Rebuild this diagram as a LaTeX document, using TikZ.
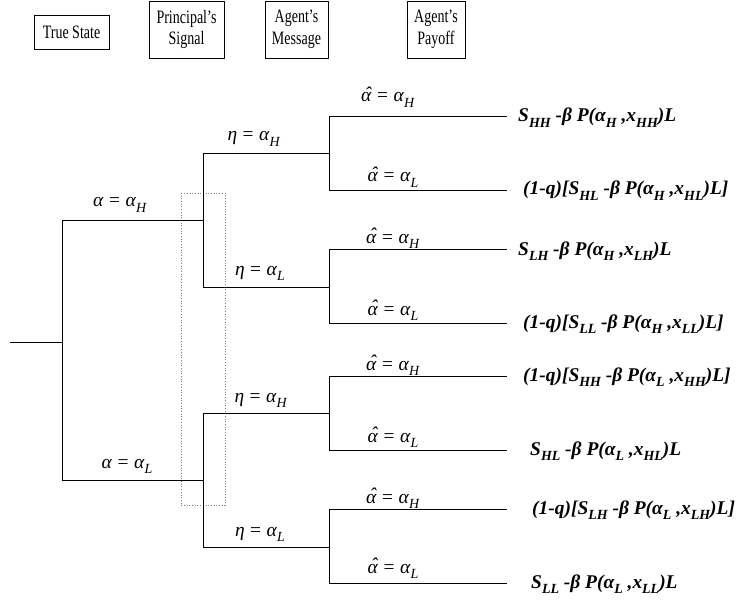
\documentclass[tikz,border=0pt]{standalone}
\usepackage{fontspec}
\setmainfont{Liberation Serif}
\usepackage{graphicx}
\newcommand\hs[1]{\scalebox{0.74}[1]{#1}}
\newcommand\sbs[1]{\raisebox{-0.28em}{\fontsize{14}{14}\selectfont #1}}
\newcommand\ahat{\rlap{\kern0.17em\raisebox{0.08em}{ˆ}}α}
\newcommand\lab[3]{{\fontsize{19.5}{19.5}\selectfont\textit{#1}\kern0.28em=\kern0.28em\textit{α}\sbs{\textit{#2}}}}
\newcommand\pay[1]{{\fontsize{19.5}{19.5}\selectfont\bfseries\itshape #1}}
\tikzset{
  hdr/.style={draw, line width=0.8bp, inner sep=0pt, align=center, font=\fontsize{19}{22}\selectfont},
  br/.style={line width=0.8bp},
  lbl/.style={anchor=base, inner sep=0pt},
  payn/.style={anchor=base west, inner sep=0pt},
  info/.style={dotted, gray, line width=0.7bp}
}
\begin{document}
\begin{tikzpicture}[x=1bp,y=-1bp]
\useasboundingbox (0,0) rectangle (737,600);
% headers
\node[hdr, minimum width=75bp, minimum height=34bp] (h1) at (71.5,32) {\hs{True State}};
\node[hdr, minimum width=75bp, minimum height=57bp] (h2) at (186.5,29.5) {\hs{Principal’s}\\\hs{Signal}};
\node[hdr, minimum width=63bp, minimum height=57bp] (h3) at (296.5,29.5) {\hs{Agent’s}\\\hs{Message}};
\node[hdr, minimum width=58bp, minimum height=57bp] (h4) at (436,29.5) {\hs{Agent’s}\\\hs{Payoff}};
% tree coordinates
\coordinate (r0) at (10,342);
\coordinate (r) at (62,342);
\coordinate (aH) at (62,220);
\coordinate (aL) at (62,480);
\coordinate (s1) at (203,220);
\coordinate (s2) at (203,480);
\coordinate (s1t) at (203,153);
\coordinate (s1b) at (203,287);
\coordinate (s2t) at (203,413);
\coordinate (s2b) at (203,547);
\coordinate (m1) at (329,153);
\coordinate (m2) at (329,287);
\coordinate (m3) at (329,413);
\coordinate (m4) at (329,547);
\foreach \i/\y in {1/116,2/190,3/249,4/323,5/376,6/450,7/509,8/583}{
  \coordinate (l\i) at (329,\y);
  \coordinate (e\i) at (507,\y);
}
% information set
\draw[info] (181,193) rectangle (225,505);
% branches
\draw[br] (r0) -- (r);
\draw[br] (aH) -- (aL);
\draw[br] (aH) -- (s1);
\draw[br] (aL) -- (s2);
\draw[br] (s1t) -- (s1b);
\draw[br] (s2t) -- (s2b);
\draw[br] (s1t) -- (m1);
\draw[br] (s1b) -- (m2);
\draw[br] (s2t) -- (m3);
\draw[br] (s2b) -- (m4);
\draw[br] (l1) -- (l2);
\draw[br] (l3) -- (l4);
\draw[br] (l5) -- (l6);
\draw[br] (l7) -- (l8);
\foreach \i in {1,...,8}{ \draw[br] (l\i) -- (e\i); }
% labels
\node[lbl] (tH) at (120,207) {\lab{α}{H}{}};
\node[lbl] (tL) at (127,468) {\lab{α}{L}{}};
\node[lbl] (g1) at (254,141) {\lab{η}{H}{}};
\node[lbl] (g2) at (260,275) {\lab{η}{L}{}};
\node[lbl] (g3) at (261,402) {\lab{η}{H}{}};
\node[lbl] (g4) at (260,536) {\lab{η}{L}{}};
\node[lbl] (k1) at (388,102) {\lab{\ahat}{H}{}};
\node[lbl] (k2) at (393,182) {\lab{\ahat}{L}{}};
\node[lbl] (k3) at (393,243) {\lab{\ahat}{H}{}};
\node[lbl] (k4) at (393,315) {\lab{\ahat}{L}{}};
\node[lbl] (k5) at (393,370) {\lab{\ahat}{H}{}};
\node[lbl] (k6) at (393,442) {\lab{\ahat}{L}{}};
\node[lbl] (k7) at (393,503) {\lab{\ahat}{H}{}};
\node[lbl] (k8) at (393,573) {\lab{\ahat}{L}{}};
% payoffs
\node[payn] (p1) at (518,122) {\pay{S\sbs{HH} -β P(α\sbs{H} ,x\sbs{HH})L}};
\node[payn] (p2) at (523,195) {\pay{(1-q)[S\sbs{HL} -β P(α\sbs{H} ,x\sbs{HL})L]}};
\node[payn] (p3) at (518,255) {\pay{S\sbs{LH} -β P(α\sbs{H} ,x\sbs{LH})L}};
\node[payn] (p4) at (523,328) {\pay{(1-q)[S\sbs{LL} -β P(α\sbs{H} ,x\sbs{LL})L]}};
\node[payn] (p5) at (523,381) {\pay{(1-q)[S\sbs{HH} -β P(α\sbs{L} ,x\sbs{HH})L]}};
\node[payn] (p6) at (530,455) {\pay{S\sbs{HL} -β P(α\sbs{L} ,x\sbs{HL})L}};
\node[payn] (p7) at (532,514) {\pay{(1-q)[S\sbs{LH} -β P(α\sbs{L} ,x\sbs{LH})L]}};
\node[payn] (p8) at (531,588) {\pay{S\sbs{LL} -β P(α\sbs{L} ,x\sbs{LL})L}};
\end{tikzpicture}
\end{document}
